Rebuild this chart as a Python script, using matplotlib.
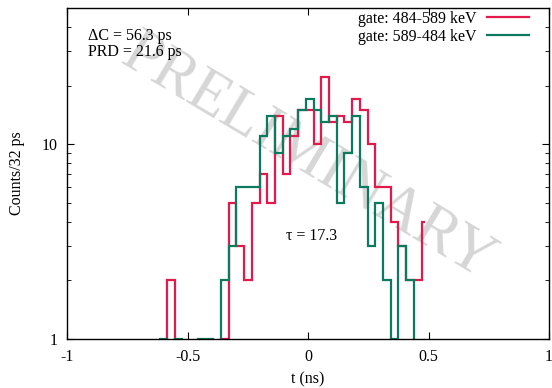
import matplotlib
matplotlib.use('Agg')
import matplotlib.pyplot as plt
import numpy as np

plt.rcParams['font.family'] = ['Liberation Serif', 'DejaVu Serif']
plt.rcParams['axes.unicode_minus'] = False

# 32 ps bins, first edge of bin index -1
first_edge = -0.617
bin_width = 0.032
# red histogram stops half way through its last bin
red_last_edge = 0.487

red_counts = [0, 2, 0, 0, 0, 0, 0, 0, 1, 5, 3, 2, 5, 7, 5, 14, 7, 11, 15, 15, 10,
              22, 13, 14, 13, 17, 15, 10, 6, 6, 4, 3, 2, 2, 4]
green_counts = [1, 0, 1, 0, 0, 1, 1, 0, 2, 3, 6, 6, 6, 11, 14, 9, 11, 12, 15, 17, 15,
                13, 14, 5, 9, 14, 6, 3, 5, 2, 1, 3, 2, 0, 0, 0]

red_label = 'gate: 484-589 keV'
green_label = 'gate: 589-484 keV'
red_color = '#e3194b'
green_color = '#0b7a5f'

edges = first_edge + bin_width * np.arange(len(green_counts) + 1)
red_edges = np.append(edges[:len(red_counts)], red_last_edge)

fig = plt.figure(figsize=(5.52, 3.88), dpi=100)
ax = fig.add_axes([0.1214, 0.1263, 0.8732, 0.8531])

ax.set_yscale('log')
ax.stairs(red_counts, red_edges, color=red_color, lw=1.6, label=red_label, baseline=None)
ax.stairs(green_counts, edges, color=green_color, lw=1.6, label=green_label, baseline=None)

ax.set_xlim(-1, 1)
ax.set_ylim(1, 50)
ax.set_xticks([-1, -0.5, 0, 0.5, 1])
ax.set_xticklabels(['-1', '-0.5', '0', '0.5', '1'])
ax.set_yticks([1, 10])
ax.set_yticklabels(['1', '10'])
ax.tick_params(which='both', direction='in', top=True, right=True, labelsize=11.5)
ax.tick_params(which='major', length=5, pad=7)
ax.tick_params(which='minor', length=3)
ax.tick_params(axis='x', which='minor', bottom=False, top=False)
for s in ax.spines.values():
    s.set_linewidth(1.0)

ax.set_xlabel('t (ns)', fontsize=11.5, labelpad=5)
ax.set_ylabel('Counts/32 ps', fontsize=11.5, labelpad=12)

ax.text(0.044, 0.915, '\u0394C = 56.3 ps', transform=ax.transAxes, fontsize=11.5, va='center')
ax.text(0.044, 0.868, 'PRD = 21.6 ps', transform=ax.transAxes, fontsize=11.5, va='center')
ax.text(0.455, 0.31, '\u03c4 = 17.3', transform=ax.transAxes, fontsize=11.5, va='center')

ax.text(0.498, 0.545, 'PRELIMINARY', transform=ax.transAxes, fontsize=45, color='#d6d6d6',
        rotation=-31, ha='center', va='center', rotation_mode='anchor', zorder=0)

leg = ax.legend(loc='upper right', bbox_to_anchor=(1 - 20 / 482, 1 - 3 / 331),
                frameon=False, markerfirst=False, fontsize=11.5,
                handlelength=2.6, labelspacing=0.1, borderaxespad=0, borderpad=0,
                handletextpad=0.7)

fig.savefig('out.png', dpi=100)
